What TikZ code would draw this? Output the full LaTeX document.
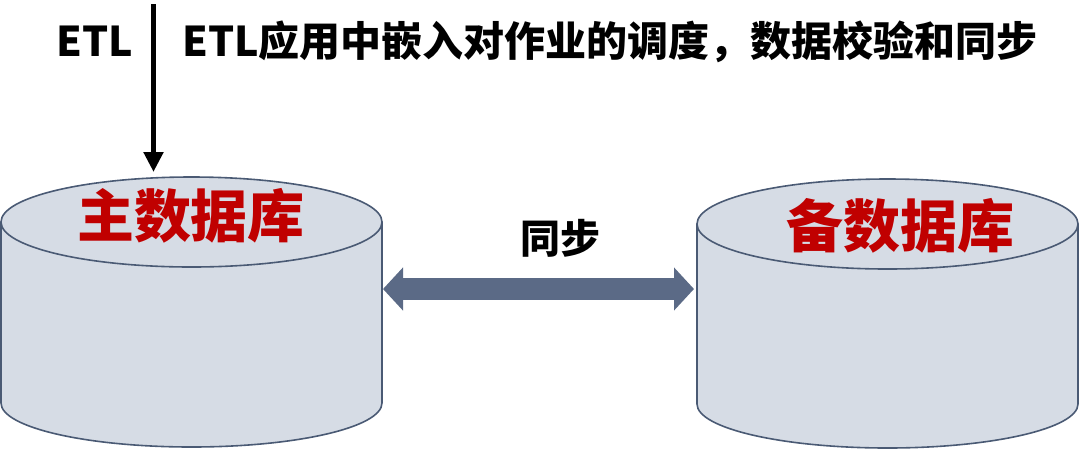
\documentclass[tikz,border=0pt]{standalone}
\usepackage{fontspec}
\setmainfont{Noto Sans CJK SC}
\usepackage{tikz}
\usetikzlibrary{arrows.meta, calc, positioning}
\definecolor{db-red}{HTML}{C00000}
\definecolor{db-fill}{HTML}{D6DCE5}
\definecolor{db-edge}{HTML}{4A5A74}
\definecolor{db-sync}{HTML}{5B6A86}

\begin{document}
\begin{tikzpicture}[x=1pt, y=-1pt, line cap=round, line join=round,
    dbbody/.style={fill=db-fill, draw=db-edge, line width=1.6pt},
    dblabel/.style={text=db-red, font=\fontsize{57}{60}\selectfont\bfseries, inner sep=0pt},
    toplabel/.style={font=\fontsize{41}{44}\selectfont\bfseries, inner sep=0pt}]
  \useasboundingbox (0,0) rectangle (1080,451);
  % zylinder
  \filldraw[dbbody] (1,222) -- (1,403)
    arc[start angle=180, end angle=360, x radius=190.5pt, y radius=44pt] -- (382,222) -- cycle;
  \filldraw[dbbody] (191.5,222) ellipse [x radius=190.5pt, y radius=45pt];
  \filldraw[dbbody] (697,224) -- (697,404)
    arc[start angle=180, end angle=360, x radius=190.5pt, y radius=44pt] -- (1078,224) -- cycle;
  \filldraw[dbbody] (887.5,224) ellipse [x radius=190.5pt, y radius=45pt];
  \node[dblabel] (mainlbl) at (191,216) {主数据库};
  \node[dblabel] (backuplbl) at (900,226) {备数据库};
  % synkronisering
  \coordinate (mainside) at (383,289);
  \coordinate (backupside) at (694,289);
  \draw[db-sync, line width=22pt, line cap=butt,
    {Triangle[width=42pt, length=20pt]}-{Triangle[width=42pt, length=20pt]}] (mainside) -- (backupside);
  \node[font=\fontsize{40}{44}\selectfont\bfseries, inner sep=0pt] (synclbl) at (560,238) {同步};
  % etl
  \node[toplabel] (etllbl) at (95,41) {ETL};
  \node[toplabel, anchor=west] (etltext) at (182,42) {ETL应用中嵌入对作业的调度，数据校验和同步};
  \coordinate (etltop) at (153.5,4);
  \coordinate (etlend) at (153.5,172);
  \draw[line width=5pt, line cap=butt, -{Triangle[width=19pt, length=20pt]}] (etltop) -- (etlend);
\end{tikzpicture}
\end{document}
